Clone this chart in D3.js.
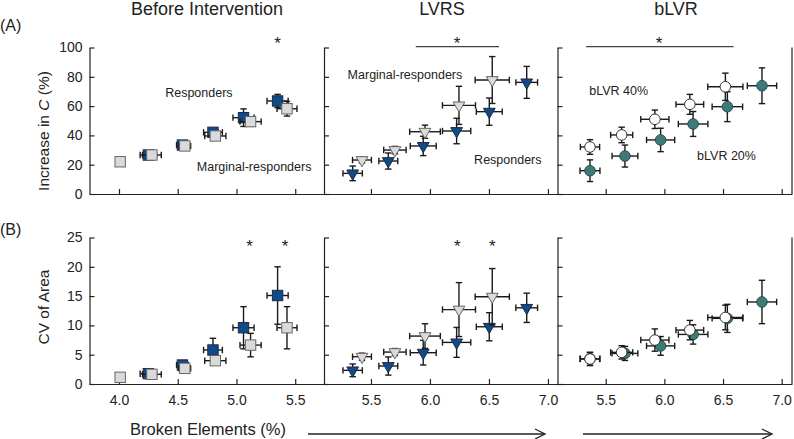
<!DOCTYPE html>
<html><head><meta charset="utf-8">
<script src="https://cdn.jsdelivr.net/npm/d3@7"></script>
<style>body{margin:0;background:#fff}svg{display:block;font-family:Arial,"Liberation Sans",sans-serif}</style>
</head><body><svg id="c" width="794" height="439"></svg>
<script>
// ---------- DATA ----------
const panelTitles = ["Before Intervention", "LVRS", "bLVR"];
const rowLabels = ["(A)", "(B)"];
const yLabelA = "Increase in C (%)";
const yLabelB = "CV of Area";
const xLabel = "Broken Elements (%)";
const xTicks1 = [4.0, 4.5, 5.0, 5.5];
const xTicks23 = [5.5, 6.0, 6.5, 7.0];
const yTicksA = [0, 20, 40, 60, 80, 100];
const yTicksB = [0, 5, 10, 15, 20, 25];

// Before intervention: responders (dark squares), marginal-responders (grey squares)
const befRespX = [4.25, 4.54, 4.80, 5.06, 5.35];
const befRespXErr = [0.07, 0.05, 0.08, 0.09, 0.09];
const befRespC = [26.6, 33.4, 42.1, 52.1, 63.5];
const befRespCErr = [1.5, 1.5, 2.0, 6.0, 4.5];
const befRespCV = [1.76, 3.24, 5.8, 9.6, 15.1];
const befRespCVErr = [0.4, 0.5, 2.0, 3.6, 4.9];
const befMargX = [4.01, 4.28, 4.56, 4.82, 5.12, 5.43];
const befMargXErr = [0.0, 0.08, 0.05, 0.09, 0.09, 0.085];
const befMargC = [22.0, 26.6, 32.8, 39.6, 49.4, 58.2];
const befMargCErr = [0.0, 1.0, 1.5, 2.0, 3.0, 5.0];
const befMargCV = [1.14, 1.65, 2.67, 3.98, 6.64, 9.6];
const befMargCVErr = [0.0, 0.4, 0.5, 0.6, 2.0, 3.6];

// LVRS: responders (dark triangles), marginal-responders (grey triangles)
const lvrsRespX = [5.345, 5.647, 5.943, 6.226, 6.503, 6.82];
const lvrsRespXErr = [0.082, 0.08, 0.11, 0.12, 0.11, 0.092];
const lvrsRespC = [14.1, 22.5, 32.8, 43.0, 56.2, 76.2];
const lvrsRespCErr = [5.0, 5.5, 6.6, 8.7, 9.3, 10.9];
const lvrsRespCV = [2.33, 3.07, 5.34, 7.1, 9.77, 13.0];
const lvrsRespCVErr = [1.08, 1.55, 2.1, 2.55, 2.4, 2.5];
const lvrsMargX = [5.424, 5.703, 5.958, 6.246, 6.528];
const lvrsMargXErr = [0.08, 0.095, 0.13, 0.14, 0.145];
const lvrsMargC = [23.2, 30.0, 42.5, 60.5, 77.8];
const lvrsMargCErr = [2.0, 2.5, 4.5, 13.0, 16.0];
const lvrsMargCV = [4.66, 5.45, 8.18, 12.7, 14.9];
const lvrsMargCVErr = [0.6, 0.6, 2.1, 4.6, 4.8];

// bLVR: 20% (teal circles), 40% (white circles)
const b20X = [5.366, 5.664, 5.968, 6.245, 6.537, 6.832];
const b20XErr = [0.085, 0.11, 0.12, 0.126, 0.13, 0.125];
const b20C = [15.9, 25.9, 36.9, 47.8, 59.6, 73.9];
const b20CErr = [7.4, 7.5, 8.0, 8.5, 10.2, 12.2];
const b20CV = [4.3, 5.22, 6.5, 8.46, 11.2, 14.0];
const b20CVErr = [1.1, 1.2, 1.6, 1.65, 2.4, 3.7];
const b40X = [5.366, 5.636, 5.919, 6.217, 6.520];
const b40XErr = [0.082, 0.094, 0.12, 0.118, 0.15];
const b40C = [32.1, 40.3, 51.0, 61.2, 73.2];
const b40CErr = [5.0, 5.3, 6.3, 6.8, 9.3];
const b40CV = [4.26, 5.4, 7.5, 9.2, 11.35];
const b40CVErr = [1.12, 1.14, 1.9, 1.65, 2.1];

// significance marks
const starsA1 = [{x: 5.35, y: 105}];
const sigBarA2 = {x0: 5.88, x1: 6.585, y: 100.6, star: 6.23};
const sigBarA3 = {x0: 5.333, x1: 6.59, y: 100.6, star: 5.955};
const starsB1 = [{x: 5.112, y: 24.0}, {x: 5.413, y: 24.0}];
const starsB2 = [{x: 6.231, y: 24.0}, {x: 6.528, y: 24.0}];

// annotations
const notesA1 = [{t: "Responders", x: 4.68, y: 69.5}, {t: "Marginal-responders", x: 5.15, y: 18.5}];
const notesA2 = [{t: "Marginal-responders", x: 5.788, y: 81.2}, {t: "Responders", x: 6.66, y: 23.2}];
const notesA3 = [{t: "bLVR 40%", x: 5.61, y: 70.5}, {t: "bLVR 20%", x: 6.53, y: 26.2}];

// ---------- DRAW ----------
const svg = d3.select("#c");
const colDark = "#104a88", colGrey = "#dadada", colTeal = "#3c7b78";

const xs = [
  d3.scaleLinear().domain([3.749, 5.745]).range([89.5, 324]),
  d3.scaleLinear().domain([5.102, 7.081]).range([324, 557.5]),
  d3.scaleLinear().domain([5.089, 7.088]).range([557.5, 792])
];
const yA = d3.scaleLinear().domain([0, 100]).range([194, 47.5]);
const yB = d3.scaleLinear().domain([0, 25]).range([384, 237.5]);

function zip(xv, xe, yv, ye) { return xv.map((v, i) => ({x: v, xe: xe[i], y: yv[i], ye: ye[i]})); }

function drawAxes(row, yS, yTicks) {
  const g = svg.append("g");
  xs.forEach((x, p) => {
    const ax = d3.axisBottom(x).tickValues(p === 0 ? xTicks1 : xTicks23)
      .tickSize(-5).tickSizeOuter(0).tickPadding(11)
      .tickFormat(row === 1 ? d3.format(".1f") : () => "");
    const gx = g.append("g").attr("transform", `translate(0,${yS.range()[0]})`).call(ax);
    const ay = d3.axisLeft(yS).tickValues(yTicks).tickSize(-5).tickSizeOuter(0).tickPadding(7)
      .tickFormat(p === 0 ? d3.format("d") : () => "");
    const gy = g.append("g").attr("transform", `translate(${x.range()[0]},0)`).call(ay);
    [gx, gy].forEach(s => {
      s.selectAll("path,line").attr("stroke", "#222").attr("stroke-width", 1.2);
      s.selectAll("text").attr("font-size", 14).attr("fill", "#222").attr("font-family", "Arial, 'Liberation Sans', sans-serif");
    });
  });
  g.append("line").attr("x1", 792).attr("x2", 792).attr("y1", yS.range()[1]).attr("y2", yS.range()[0])
    .attr("stroke", "#222").attr("stroke-width", 1.2);
}

function drawSeries(x, yS, data, shape, fill, stroke) {
  const g = svg.append("g");
  const cap = 3.2;
  data.forEach(d => {
    const cx = x(d.x), cy = yS(d.y);
    if (d.xe > 0) {
      const x0 = x(d.x - d.xe), x1 = x(d.x + d.xe);
      g.append("line").attr("x1", x0).attr("x2", x1).attr("y1", cy).attr("y2", cy);
      g.append("line").attr("x1", x0).attr("x2", x0).attr("y1", cy - cap).attr("y2", cy + cap);
      g.append("line").attr("x1", x1).attr("x2", x1).attr("y1", cy - cap).attr("y2", cy + cap);
    }
    if (d.ye > 0) {
      const y0 = yS(d.y - d.ye), y1 = yS(d.y + d.ye);
      g.append("line").attr("x1", cx).attr("x2", cx).attr("y1", y0).attr("y2", y1);
      g.append("line").attr("x1", cx - cap).attr("x2", cx + cap).attr("y1", y0).attr("y2", y0);
      g.append("line").attr("x1", cx - cap).attr("x2", cx + cap).attr("y1", y1).attr("y2", y1);
    }
  });
  g.selectAll("line").attr("stroke", "#1a1a1a").attr("stroke-width", 1.4);
  const m = svg.append("g");
  data.forEach(d => {
    const cx = x(d.x), cy = yS(d.y);
    let s;
    if (shape === "square") s = m.append("rect").attr("x", cx - 5.2).attr("y", cy - 5.2).attr("width", 10.4).attr("height", 10.4);
    else if (shape === "tri") s = m.append("path").attr("d", d3.symbol(d3.symbolTriangle, 60)()).attr("transform", `translate(${cx},${cy}) rotate(180)`);
    else s = m.append("circle").attr("cx", cx).attr("cy", cy).attr("r", 5.3);
    s.attr("fill", fill).attr("stroke", stroke).attr("stroke-width", 1);
  });
}

drawAxes(0, yA, yTicksA);
drawAxes(1, yB, yTicksB);

// row A
drawSeries(xs[0], yA, zip(befRespX, befRespXErr, befRespC, befRespCErr), "square", colDark, "#1b2c44");
drawSeries(xs[0], yA, zip(befMargX, befMargXErr, befMargC, befMargCErr), "square", colGrey, "#666");
drawSeries(xs[1], yA, zip(lvrsRespX, lvrsRespXErr, lvrsRespC, lvrsRespCErr), "tri", colDark, "#1b2c44");
drawSeries(xs[1], yA, zip(lvrsMargX, lvrsMargXErr, lvrsMargC, lvrsMargCErr), "tri", colGrey, "#666");
drawSeries(xs[2], yA, zip(b20X, b20XErr, b20C, b20CErr), "circle", colTeal, "#2a4f4d");
drawSeries(xs[2], yA, zip(b40X, b40XErr, b40C, b40CErr), "circle", "#fff", "#333");
// row B
drawSeries(xs[0], yB, zip(befRespX, befRespXErr, befRespCV, befRespCVErr), "square", colDark, "#1b2c44");
drawSeries(xs[0], yB, zip(befMargX, befMargXErr, befMargCV, befMargCVErr), "square", colGrey, "#666");
drawSeries(xs[1], yB, zip(lvrsRespX, lvrsRespXErr, lvrsRespCV, lvrsRespCVErr), "tri", colDark, "#1b2c44");
drawSeries(xs[1], yB, zip(lvrsMargX, lvrsMargXErr, lvrsMargCV, lvrsMargCVErr), "tri", colGrey, "#666");
drawSeries(xs[2], yB, zip(b20X, b20XErr, b20CV, b20CVErr), "circle", colTeal, "#2a4f4d");
drawSeries(xs[2], yB, zip(b40X, b40XErr, b40CV, b40CVErr), "circle", "#fff", "#333");

// stars & significance bars
function star(x, yS, d) {
  svg.append("text").attr("x", x(d.x)).attr("y", yS(d.y) + 9).attr("text-anchor", "middle")
    .attr("font-size", 17).attr("fill", "#222").text("*");
}
starsA1.forEach(d => star(xs[0], yA, d));
starsB1.forEach(d => star(xs[0], yB, d));
starsB2.forEach(d => star(xs[1], yB, d));
[[xs[1], sigBarA2], [xs[2], sigBarA3]].forEach(([x, b]) => {
  svg.append("line").attr("x1", x(b.x0)).attr("x2", x(b.x1)).attr("y1", yA(b.y)).attr("y2", yA(b.y))
    .attr("stroke", "#444").attr("stroke-width", 1.3);
  star(x, yA, {x: b.star, y: b.y + 4.2});
});

// annotations
[[xs[0], notesA1], [xs[1], notesA2], [xs[2], notesA3]].forEach(([x, notes]) => {
  notes.forEach(n => svg.append("text").attr("x", x(n.x)).attr("y", yA(n.y)).attr("dy", "0.35em")
    .attr("text-anchor", "middle").attr("font-size", 12.5).attr("fill", "#222").text(n.t));
});

// titles
const titleX = [207, 442, 676];
panelTitles.forEach((t, i) => svg.append("text").attr("x", titleX[i]).attr("y", 14.5).attr("text-anchor", "middle")
  .attr("font-size", 18).attr("fill", "#222").text(t));
svg.append("text").attr("x", 0).attr("y", 31).attr("font-size", 16).attr("fill", "#222").text(rowLabels[0]);
svg.append("text").attr("x", 0).attr("y", 235).attr("font-size", 16).attr("fill", "#222").text(rowLabels[1]);

// y labels
const yl = svg.append("text").attr("transform", "translate(49,131) rotate(-90)").attr("text-anchor", "middle")
  .attr("font-size", 15.5).attr("fill", "#222");
yl.append("tspan").text("Increase in ");
yl.append("tspan").attr("font-style", "italic").text("C");
yl.append("tspan").text(" (%)");
svg.append("text").attr("transform", "translate(49,307) rotate(-90)").attr("text-anchor", "middle")
  .attr("font-size", 15.5).attr("fill", "#222").text(yLabelB);

// x label
svg.append("text").attr("x", 208).attr("y", 435).attr("text-anchor", "middle")
  .attr("font-size", 16.5).attr("fill", "#222").text(xLabel);

// arrows
[[308, 545], [583, 772]].forEach(([a, b]) => {
  const g = svg.append("g").attr("stroke", "#222").attr("stroke-width", 1.3).attr("fill", "none");
  g.append("line").attr("x1", a).attr("x2", b).attr("y1", 434).attr("y2", 434);
  g.append("path").attr("d", `M${b - 10},${429} L${b},${434} L${b - 10},${439}`);
});
</script></body></html>
